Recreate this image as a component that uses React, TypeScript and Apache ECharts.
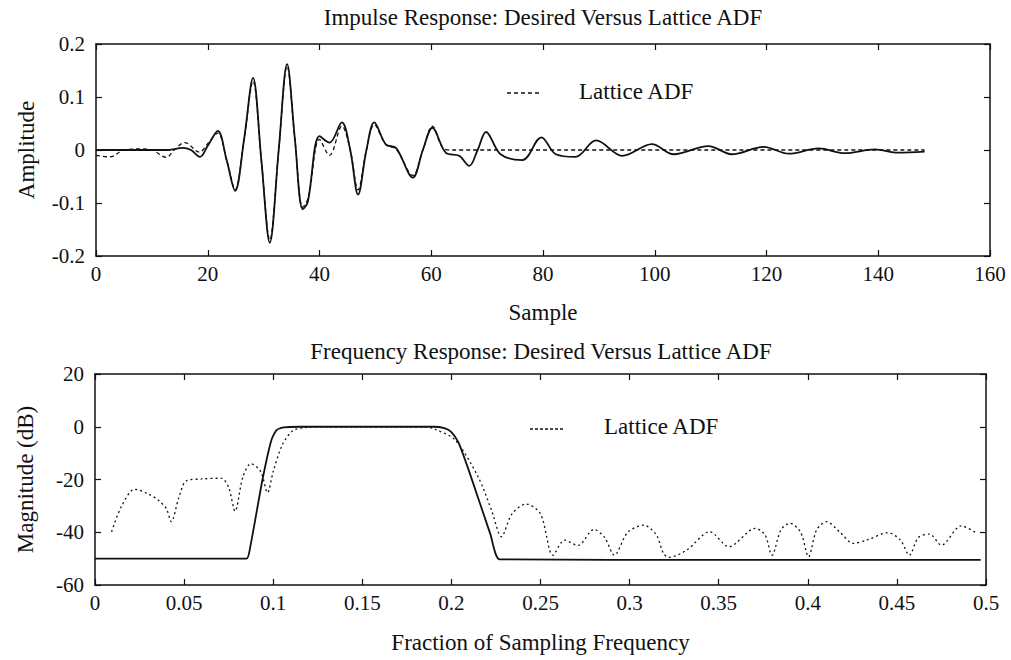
import React, { useEffect, useRef } from "react";
import * as echarts from "echarts";

// ---------- Data ----------
const impulseTitle = "Impulse Response: Desired Versus Lattice ADF";
const freqTitle = "Frequency Response: Desired Versus Lattice ADF";
const legendLabel = "Lattice ADF";

const impulseXRange = [0, 160, 20];
const impulseYRange = [-0.2, 0.2, 0.1];
const freqXRange = [0, 0.5, 0.05];
const freqYRange = [-60, 20, 20];

// [sample, amplitude]
const desiredImpulse: [number, number][] = [
  [0, 0], [13, 0], [15.5, 0.004], [17, 0], [18.6, -0.013], [20, 0.008], [21.8, 0.036],
  [23.4, -0.02], [24.9, -0.077], [26.5, 0.02], [28.1, 0.136], [29.6, -0.02], [31.1, -0.175],
  [32.7, 0], [34.2, 0.162], [35.6, 0.02], [37, -0.112], [37.9, -0.098], [40, 0.026],
  [41.8, 0.014], [44, 0.052], [45.5, 0], [46.9, -0.084], [48.4, 0], [49.8, 0.052],
  [51.9, 0.01], [53.7, 0.004], [56.7, -0.052], [58.5, 0], [60.2, 0.042], [62.6, -0.005],
  [65, -0.011], [66.8, -0.03], [68.3, 0], [69.8, 0.034], [72.4, -0.008], [76.3, -0.019],
  [79.7, 0.024], [82.3, -0.008], [85.8, -0.013], [89.5, 0.018], [94.2, -0.011],
  [99.5, 0.011], [103.4, -0.008], [109.6, 0.0075], [113.8, -0.008], [119.5, 0.006],
  [124, -0.007], [129.3, 0.003], [134, -0.006], [139.4, 0.001], [143.6, -0.005], [148.3, -0.003],
];

const latticeImpulse: [number, number][] = [
  [0, -0.01], [2.5, -0.013], [5, 0], [8, 0.002], [10, 0], [12.6, -0.014], [14, 0],
  [15.9, 0.014], [18.5, -0.004], [20, 0.012], [21.8, 0.032], [23.4, -0.02], [24.9, -0.075],
  [26.5, 0.02], [28.1, 0.13], [29.6, -0.02], [31.1, -0.17], [32.7, 0], [34.2, 0.158],
  [35.6, 0.02], [37, -0.108], [38, -0.09], [40, 0.02], [41.8, -0.01], [44, 0.045],
  [45.5, 0], [46.9, -0.075], [48.4, 0], [49.8, 0.048], [51.9, 0.01], [53.7, 0.002],
  [56.7, -0.048], [58.5, 0], [60.2, 0.045], [62, 0.005], [63.5, 0], [148.3, 0],
];

// [fraction of sampling frequency, dB]
const desiredFreq: [number, number][] = [
  [0, -50], [0.085, -50], [0.087, -46], [0.094, -20], [0.099, -5], [0.102, -1.2],
  [0.106, -0.2], [0.115, 0], [0.19, 0], [0.196, -0.5], [0.2, -2], [0.204, -6],
  [0.21, -17], [0.222, -41], [0.2272, -50.3], [0.35, -50.5], [0.497, -50.5],
];

const latticeFreq: [number, number][] = [
  [0.0093, -39.8], [0.015, -30], [0.0223, -23.7], [0.03, -25.5], [0.0354, -27.8],
  [0.04, -31], [0.0428, -36], [0.047, -27], [0.0512, -20.5], [0.06, -19.8], [0.0708, -19.5],
  [0.075, -23], [0.0786, -32], [0.083, -19], [0.0875, -14], [0.093, -17], [0.0968, -25],
  [0.1, -17], [0.105, -7], [0.111, -1.5], [0.118, -0.3], [0.13, 0], [0.185, 0],
  [0.191, -1], [0.202, -5], [0.215, -19], [0.2225, -31.6], [0.2281, -41.7], [0.234, -33],
  [0.242, -29.3], [0.25, -33], [0.257, -48.7], [0.2635, -43], [0.271, -45], [0.28, -38.9],
  [0.286, -42], [0.2914, -48.7], [0.299, -40], [0.308, -37.3], [0.315, -41], [0.319, -48],
  [0.322, -49.5], [0.332, -46.8], [0.345, -39.8], [0.3557, -45.5], [0.3706, -38.5],
  [0.376, -41], [0.3799, -48.7], [0.385, -39], [0.39, -36.6], [0.396, -40], [0.4004, -49.3],
  [0.405, -39], [0.4106, -36], [0.418, -40], [0.4255, -44.2], [0.433, -43], [0.445, -40.2],
  [0.452, -43], [0.457, -48.7], [0.462, -42], [0.4683, -40.7], [0.475, -44.9],
  [0.486, -37.6], [0.495, -40.4],
];

// ---------- Styling ----------
const FONT = '"Liberation Serif", "Times New Roman", serif';
const INK = "#111";

function frameAxis(
  kind: "x" | "y",
  gridIndex: number,
  range: number[],
  position: string,
  showLabel: boolean,
  extra: any = {}
) {
  return {
    type: "value",
    gridIndex,
    position,
    min: range[0],
    max: range[1],
    interval: range[2],
    splitLine: { show: false },
    axisLine: { show: true, onZero: false, lineStyle: { color: INK, width: 1.5 } },
    axisTick: { show: true, inside: true, length: 6, lineStyle: { color: INK, width: 1.2 } },
    axisLabel: {
      show: showLabel,
      color: INK,
      fontFamily: FONT,
      fontSize: 21,
      margin: kind === "x" ? 7 : 11,
      showMinLabel: true,
      showMaxLabel: true,
    },
    ...extra,
  };
}

const nameStyle = { color: INK, fontFamily: FONT, fontSize: 23 };

export default function App() {
  const ref = useRef<HTMLDivElement>(null);

  useEffect(() => {
    if (!ref.current) return;
    const chart = echarts.init(ref.current, null, { renderer: "svg" });

    const option: any = {
      animation: false,
      backgroundColor: "#fff",
      title: [
        {
          text: impulseTitle,
          left: 543,
          textAlign: "center",
          top: 6,
          padding: 0,
          textStyle: { ...nameStyle, fontWeight: "normal" },
        },
        {
          text: freqTitle,
          left: 541,
          textAlign: "center",
          top: 340,
          padding: 0,
          textStyle: { ...nameStyle, fontWeight: "normal" },
        },
      ],
      grid: [
        { left: 96, top: 44, width: 894, height: 212, containLabel: false },
        { left: 95, top: 374, width: 891, height: 211, containLabel: false },
      ],
      xAxis: [
        frameAxis("x", 0, impulseXRange, "bottom", true, {
          name: "Sample",
          nameLocation: "middle",
          nameGap: 45,
          nameTextStyle: nameStyle,
        }),
        frameAxis("x", 0, impulseXRange, "top", false),
        frameAxis("x", 1, freqXRange, "bottom", true, {
          name: "Fraction of Sampling Frequency",
          nameLocation: "middle",
          nameGap: 46,
          nameTextStyle: nameStyle,
        }),
        frameAxis("x", 1, freqXRange, "top", false),
      ],
      yAxis: [
        frameAxis("y", 0, impulseYRange, "left", true, {
          name: "Amplitude",
          nameLocation: "middle",
          nameGap: 58,
          nameTextStyle: nameStyle,
        }),
        frameAxis("y", 0, impulseYRange, "right", false),
        frameAxis("y", 1, freqYRange, "left", true, {
          name: "Magnitude (dB)",
          nameLocation: "middle",
          nameGap: 58,
          nameTextStyle: nameStyle,
        }),
        frameAxis("y", 1, freqYRange, "right", false),
      ],
      series: [
        {
          name: "Desired",
          type: "line",
          xAxisIndex: 0,
          yAxisIndex: 0,
          data: desiredImpulse,
          smooth: 0.35,
          showSymbol: false,
          lineStyle: { color: INK, width: 1.8 },
        },
        {
          name: legendLabel,
          type: "line",
          xAxisIndex: 0,
          yAxisIndex: 0,
          data: latticeImpulse,
          smooth: 0.35,
          showSymbol: false,
          lineStyle: { color: INK, width: 1.3, type: [4, 3] },
        },
        {
          name: "Desired",
          type: "line",
          xAxisIndex: 2,
          yAxisIndex: 2,
          data: desiredFreq,
          smooth: 0.2,
          showSymbol: false,
          lineStyle: { color: INK, width: 1.8 },
        },
        {
          name: legendLabel,
          type: "line",
          xAxisIndex: 2,
          yAxisIndex: 2,
          data: latticeFreq,
          smooth: 0.3,
          showSymbol: false,
          lineStyle: { color: INK, width: 1.3, type: [2, 3] },
        },
      ],
      graphic: [
        {
          type: "line",
          shape: { x1: 507, y1: 93, x2: 540, y2: 93 },
          style: { stroke: INK, lineWidth: 1.6, lineDash: [4, 3] },
        },
        {
          type: "text",
          x: 579,
          y: 91,
          style: {
            text: legendLabel,
            fill: INK,
            font: `23px ${FONT}`,
            align: "left",
            verticalAlign: "middle",
          },
        },
        {
          type: "line",
          shape: { x1: 530, y1: 429, x2: 565, y2: 429 },
          style: { stroke: INK, lineWidth: 1.6, lineDash: [3, 2] },
        },
        {
          type: "text",
          x: 604,
          y: 426,
          style: {
            text: legendLabel,
            fill: INK,
            font: `23px ${FONT}`,
            align: "left",
            verticalAlign: "middle",
          },
        },
      ],
    };

    chart.setOption(option);
    return () => chart.dispose();
  }, []);

  return (
    <div
      ref={ref}
      style={{
        position: "fixed",
        left: 0,
        top: 0,
        width: 1011,
        height: 660,
        background: "#fff",
      }}
    />
  );
}
